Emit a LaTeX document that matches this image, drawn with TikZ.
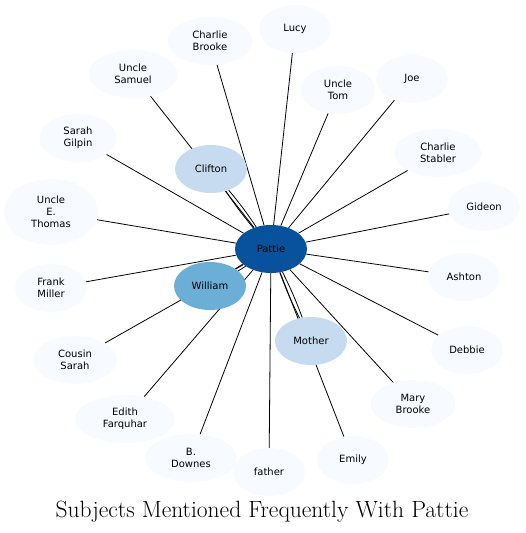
\documentclass[tikz,border=0pt]{standalone}
\usepackage{fontspec}
\usepackage{tikz}
\usetikzlibrary{shapes.geometric,backgrounds}
\newfontfamily\namefont{DejaVu Sans}
\definecolor{paleblue}{HTML}{F7FBFF}
\definecolor{lightblue}{HTML}{C6DBEF}
\definecolor{midblue}{HTML}{6BAED6}
\definecolor{deepblue}{HTML}{08519C}

\begin{document}
\begin{tikzpicture}[x=1pt,y=-1pt,
  person/.style={ellipse, fill=paleblue, align=center, inner xsep=4pt, inner ysep=5pt,
    minimum width=72pt, minimum height=48pt, font=\namefont\fontsize{10}{12}\selectfont},
  link/.style={line width=0.8pt}]
\useasboundingbox (0,0) rectangle (526,533);
\node[person, fill=deepblue] (pattie) at (271,249) {Pattie};
\node[person, fill=lightblue] (clifton) at (211,169) {Clifton};
\node[person, fill=midblue] (william) at (210,286) {William};
\node[person, fill=lightblue] (mother) at (311,341) {Mother};
\node[person] (lucy) at (295,29) {Lucy};
\node[person, minimum width=85pt] (cbrooke) at (210,41) {Charlie\\Brooke};
\node[person, minimum width=89pt] (usamuel) at (133,74) {Uncle\\Samuel};
\node[person, minimum width=75pt] (utom) at (338,90) {Uncle\\Tom};
\node[person] (joe) at (412,79) {Joe};
\node[person, minimum width=87pt] (cstabler) at (438,153) {Charlie\\Stabler};
\node[person] (gideon) at (484,207) {Gideon};
\node[person, minimum width=77pt] (sgilpin) at (78,138) {Sarah\\Gilpin};
\node[person, minimum width=94pt, minimum height=66pt] (uethomas) at (51,212) {Uncle\\E.\\Thomas};
\node[person] (ashton) at (464,277) {Ashton};
\node[person] (fmiller) at (51,288) {Frank\\Miller};
\node[person] (debbie) at (467,350) {Debbie};
\node[person, minimum width=84pt] (csarah) at (75,360) {Cousin\\Sarah};
\node[person, minimum width=85pt] (mbrooke) at (413,404) {Mary\\Brooke};
\node[person, minimum width=100pt] (efarquhar) at (125,419) {Edith\\Farquhar};
\node[person, minimum width=92pt] (bdownes) at (191,458) {B.\\Downes};
\node[person] (emily) at (353,460) {Emily};
\node[person] (father) at (269,472) {father};
\node[font=\fontsize{23.5}{28}\selectfont] (title) at (262,512) {Subjects Mentioned Frequently With Pattie};
\begin{scope}[on background layer]
\foreach \who in {lucy,cbrooke,usamuel,utom,joe,cstabler,gideon,sgilpin,uethomas,ashton,
  fmiller,debbie,csarah,mbrooke,efarquhar,bdownes,emily,father}
  \draw[link] (pattie) -- (\who);
\foreach \who in {clifton,william,mother} {
  \draw[link] (pattie) to[bend left=3] (\who);
  \draw[link] (pattie) to[bend right=3] (\who);
}
\end{scope}
\end{tikzpicture}
\end{document}
